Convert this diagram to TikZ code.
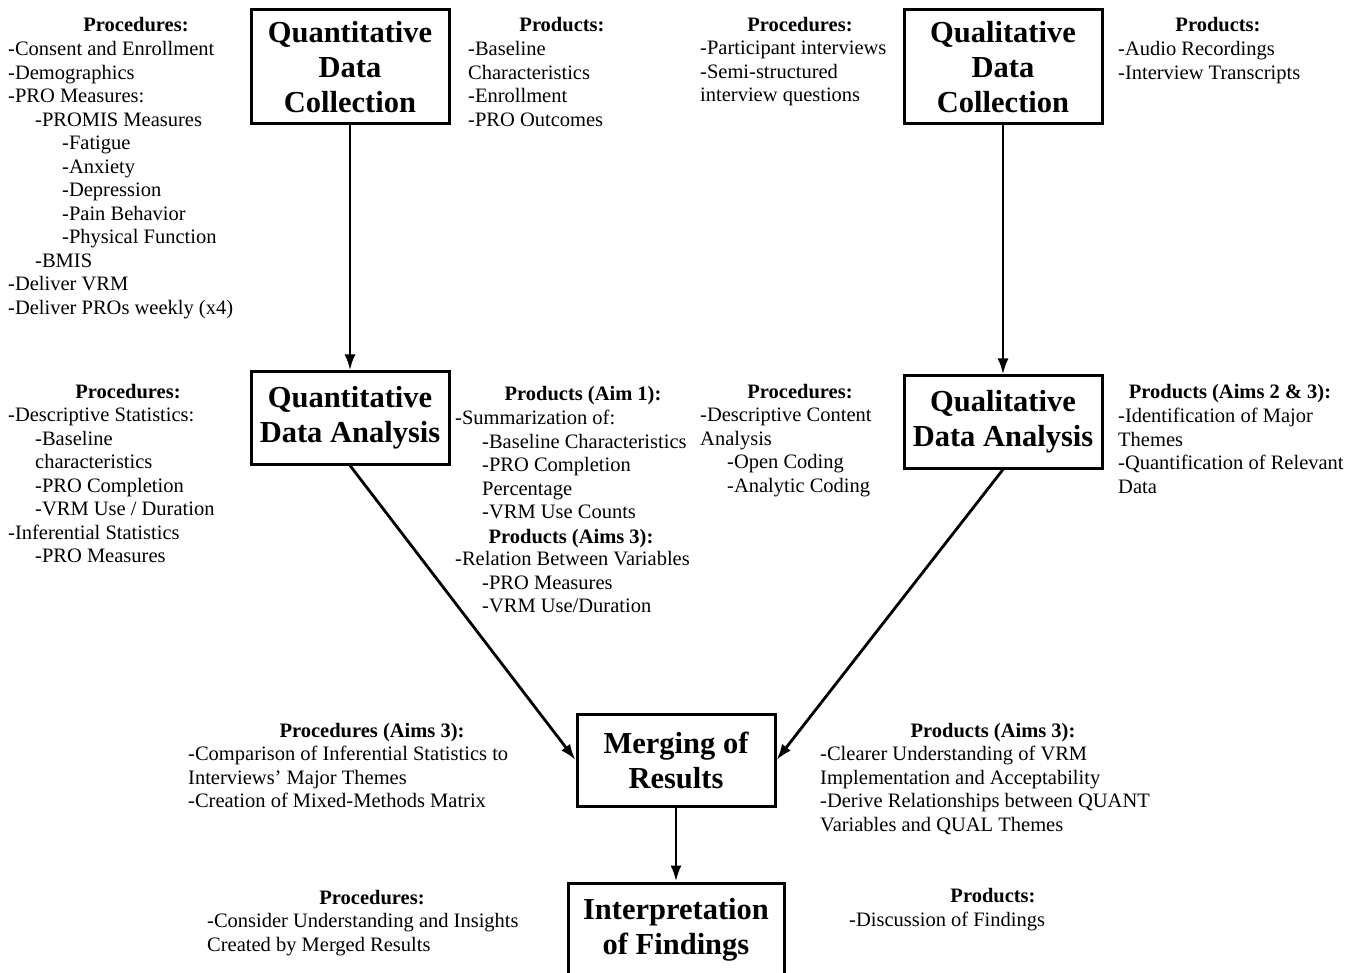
\documentclass[tikz,border=0pt]{standalone}
\usepackage{fontspec}
\setmainfont{Liberation Serif}
\usetikzlibrary{arrows.meta,positioning}
\newcommand{\ind}{\hspace*{27pt}}

\begin{document}
\begin{tikzpicture}[
    x=1pt, y=-1pt,
    >={Latex[length=16pt,width=11pt]},
    stagebox/.style={draw, line width=3pt, inner sep=0pt, align=center,
                     minimum width=198pt, minimum height=92pt,
                     font=\fontsize{30.5}{35}\selectfont\bfseries},
    head/.style={anchor=base, inner sep=0pt,
                 font=\fontsize{20.5}{23.5}\selectfont\bfseries},
    items/.style={anchor=north west, yshift=13.8pt, inner sep=0pt,
                  align=left, execute at begin node=\strut,
                  font=\fontsize{20.5}{23.5}\selectfont},
    arrow/.style={->, line width=2.8pt},
  ]
  \useasboundingbox (0,0) rectangle (1360,973);

  % ══════════════════════════════════════════════
  % Stages — two columns merging into one
  % ══════════════════════════════════════════════
  \node[stagebox, minimum height=114pt] at (350, 67) (qncoll)
    {Quantitative\\Data\\Collection};
  \node[stagebox, minimum height=114pt] at (1003, 67) (qlcoll)
    {Qualitative\\Data\\Collection};
  \node[stagebox] at (350, 418) (qnana) {Quantitative\\Data Analysis};
  \node[stagebox] at (1003, 422) (qlana) {Qualitative\\Data Analysis};
  \node[stagebox] at (676, 760) (merge) {Merging of\\Results};
  \node[stagebox, minimum width=216pt, minimum height=94pt] at (676, 930)
    (interp) {Interpretation\\of Findings};

  % ── Row 0: collection notes ──
  \node[head] at (136, 32) (qncollproch) {Procedures:};
  \node[items] at (8, 55) (qncollproc)
    {-Consent and Enrollment\\-Demographics\\-PRO Measures:\\
     \ind-PROMIS Measures\\\ind\ind-Fatigue\\\ind\ind-Anxiety\\
     \ind\ind-Depression\\\ind\ind-Pain Behavior\\
     \ind\ind-Physical Function\\\ind-BMIS\\-Deliver VRM\\
     -Deliver PROs weekly (x4)};
  \node[head] at (562, 32) (qncollprodh) {Products:};
  \node[items] at (468, 55) (qncollprod)
    {-Baseline\\Characteristics\\-Enrollment\\-PRO Outcomes};
  \node[head] at (800, 32) (qlcollproch) {Procedures:};
  \node[items] at (700, 55) (qlcollproc)
    {-Participant interviews\\-Semi-structured\\interview questions};
  \node[head] at (1218, 32) (qlcollprodh) {Products:};
  \node[items] at (1118, 55) (qlcollprod)
    {-Audio Recordings\\-Interview Transcripts};

  % ── Row 1: analysis notes ──
  \node[head] at (128, 399) (qnanaproch) {Procedures:};
  \node[items] at (8, 422) (qnanaproc)
    {-Descriptive Statistics:\\\ind-Baseline\\\ind characteristics\\
     \ind-PRO Completion\\\ind-VRM Use / Duration\\
     -Inferential Statistics\\\ind-PRO Measures};
  \node[head] at (583, 401) (qnanaprodh) {Products (Aim 1):};
  \node[items] at (455, 424) (qnanaprod)
    {-Summarization of:\\\ind-Baseline Characteristics\\
     \ind-PRO Completion\\\ind Percentage\\\ind-VRM Use Counts};
  \node[head] at (571, 543) (qnanaprodbh) {Products (Aims 3):};
  \node[items] at (455, 565) (qnanaprodb)
    {-Relation Between Variables\\\ind-PRO Measures\\
     \ind-VRM Use/Duration};
  \node[head] at (800, 399) (qlanaproch) {Procedures:};
  \node[items] at (700, 422) (qlanaproc)
    {-Descriptive Content\\Analysis\\\ind-Open Coding\\
     \ind-Analytic Coding};
  \node[head] at (1230, 399) (qlanaprodh) {Products (Aims 2 \& 3):};
  \node[items] at (1118, 422) (qlanaprod)
    {-Identification of Major\\Themes\\-Quantification of Relevant\\Data};

  % ── Row 2: merging notes ──
  \node[head] at (372, 737) (mergeproch) {Procedures (Aims 3):};
  \node[items] at (188, 760) (mergeproc)
    {-Comparison of Inferential Statistics to\\
     Interviews' Major Themes\\-Creation of Mixed-Methods Matrix};
  \node[head] at (993, 737) (mergeprodh) {Products (Aims 3):};
  \node[items] at (820, 760) (mergeprod)
    {-Clearer Understanding of VRM\\Implementation and Acceptability\\
     -Derive Relationships between QUANT\\Variables and QUAL Themes};

  % ── Row 3: interpretation notes ──
  \node[head] at (372, 904) (interpproch) {Procedures:};
  \node[items] at (207, 927) (interpproc)
    {-Consider Understanding and Insights\\Created by Merged Results};
  \node[head] at (993, 902) (interpprodh) {Products:};
  \node[items] at (849, 924) (interpprod) {-Discussion of Findings};

  % ══════════════════════════════════════════════
  % Arrows
  % ══════════════════════════════════════════════
  \draw[arrow] (qncoll) -- (qnana);
  \draw[arrow] (qlcoll) -- (qlana);
  \draw[arrow] (qnana.south) -- (merge.west);
  \draw[arrow] (qlana.south) -- (merge.east);
  \draw[arrow] (merge) -- (interp);

\end{tikzpicture}
\end{document}
